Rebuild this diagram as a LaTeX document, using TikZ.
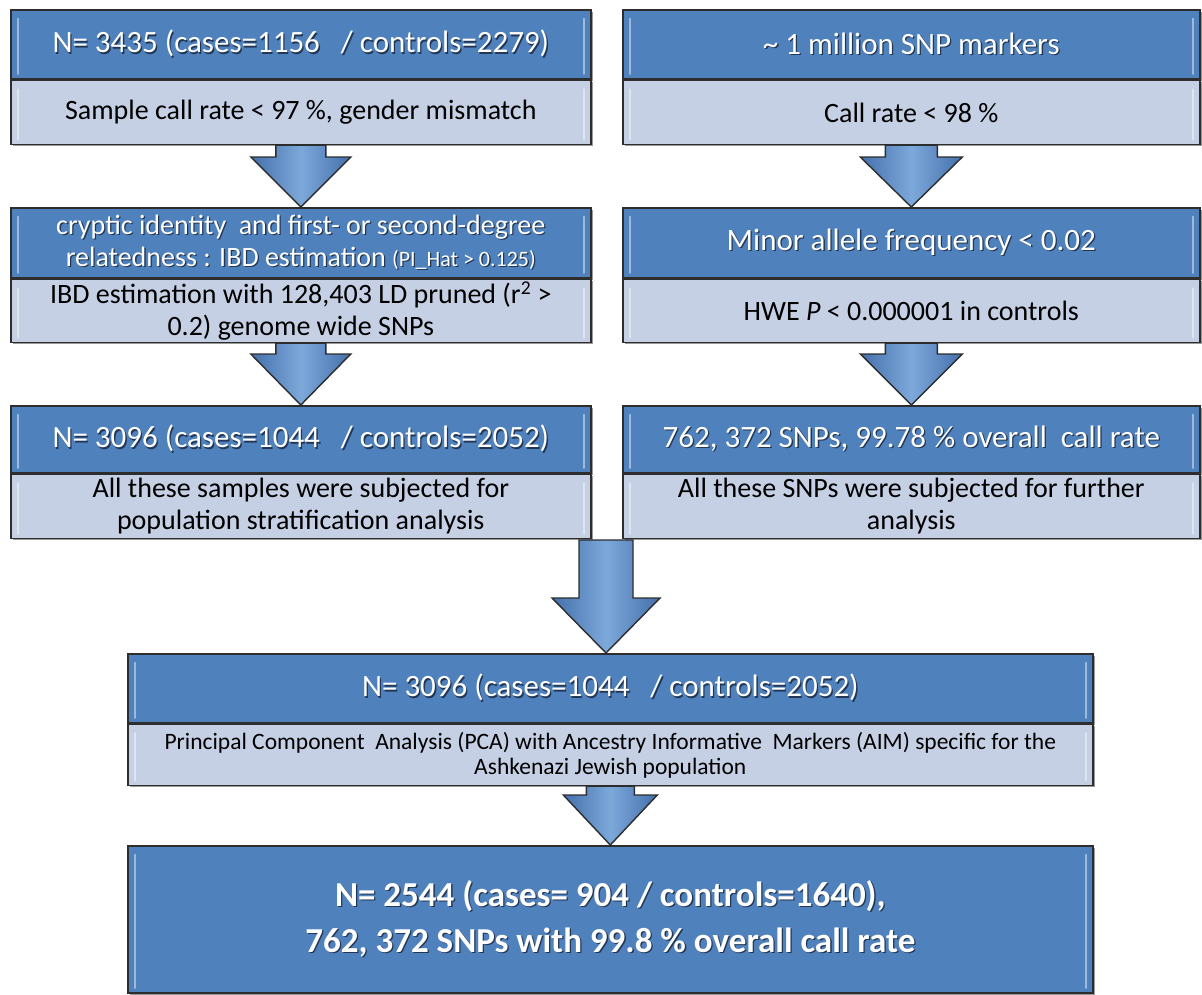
\documentclass[tikz,border=0pt]{standalone}
\usepackage{fontspec}
\setmainfont{Carlito}
\usetikzlibrary{calc,shadows}
\definecolor{hdrblue}{RGB}{79,129,189}
\definecolor{subblue}{RGB}{198,208,229}
\definecolor{edgegray}{RGB}{45,45,45}
\definecolor{arrA}{RGB}{68,112,172}
\definecolor{arrB}{RGB}{125,168,218}
\definecolor{txtshadow}{RGB}{35,55,85}
\newcommand\shtxt[1]{\makebox[0pt][l]{\hspace{1.3pt}\raisebox{-1.3pt}{\textcolor{txtshadow}{#1}}}#1}
\newcommand\blkarrow[5]{%
  \draw[blockarrow] ($#1+(-#3,0)$) -- ($#2+(-#3,-#5)$) -- ($#2+(-#4,-#5)$) -- #2
    -- ($#2+(#4,-#5)$) -- ($#2+(#3,-#5)$) -- ($#1+(#3,0)$) -- cycle;}
\tikzset{
  gloss/.style={path picture={
    \draw[white, opacity=0.45, line width=2.5pt, line cap=round]
      ([xshift=7pt,yshift=-9pt]path picture bounding box.north west) --
      ([xshift=7pt,yshift=5pt]path picture bounding box.south west);
    \draw[white, opacity=0.45, line width=2.5pt, line cap=round]
      ([xshift=-7pt,yshift=-9pt]path picture bounding box.north east) --
      ([xshift=-7pt,yshift=5pt]path picture bounding box.south east);}},
  part/.style={draw=edgegray, line width=1.6pt, anchor=north west, inner sep=0pt,
    align=center, gloss,
    drop shadow={shadow xshift=2pt, shadow yshift=-2pt, opacity=0.4, fill=black}},
  hdr/.style={part, fill=hdrblue, text=white, font=\fontsize{31}{36}\selectfont},
  hdrsmall/.style={hdr, font=\fontsize{28}{32}\selectfont},
  sub/.style={part, fill=subblue, text=black, font=\fontsize{28}{32}\selectfont},
  subsmall/.style={sub, font=\fontsize{23.5}{25}\selectfont},
  final/.style={part, fill=hdrblue, text=white, font=\fontsize{35}{46}\selectfont\bfseries},
  blockarrow/.style={draw=edgegray, line width=1.4pt, line join=miter,
    left color=arrA, right color=arrA, middle color=arrB},
}
\begin{document}
\begin{tikzpicture}[x=1pt,y=-1pt]
\useasboundingbox[fill=white] (0,0) rectangle (1202,994);

% left column
\node[hdr, minimum width=580pt, minimum height=69pt] (L1h) at (10,9)
  {\shtxt{N= 3435 (cases=1156\ \ \ / controls=2279)}};
\node[sub, minimum width=580pt, minimum height=64pt] (L1s) at (L1h.south west)
  {Sample call rate < 97 \%, gender mismatch};
\node[hdrsmall, minimum width=580pt, minimum height=70pt] (L2h) at (10,207)
  {\shtxt{cryptic identity\ \ and first- or second-degree}\\
   \shtxt{relatedness : IBD estimation {\fontsize{22}{24}\selectfont(PI\_Hat > 0.125)}}};
\node[sub, minimum width=580pt, minimum height=63pt] (L2s) at (L2h.south west)
  {IBD estimation with 128,403 LD pruned (r\textsuperscript{2} >\\ 0.2) genome wide SNPs};
\node[hdr, minimum width=580pt, minimum height=67pt] (L3h) at (10,405)
  {\shtxt{N= 3096 (cases=1044\ \ \ / controls=2052)}};
\node[sub, minimum width=580pt, minimum height=64pt] (L3s) at (L3h.south west)
  {All these samples were subjected for\\ population stratification analysis};

% right column
\node[hdr, minimum width=577pt, minimum height=69pt] (R1h) at (622,9)
  {\shtxt{\textasciitilde\ 1 million SNP markers}};
\node[sub, minimum width=577pt, minimum height=64pt] (R1s) at (R1h.south west)
  {Call rate < 98 \%};
\node[hdr, minimum width=577pt, minimum height=70pt] (R2h) at (622,207)
  {\shtxt{Minor allele frequency < 0.02}};
\node[sub, minimum width=577pt, minimum height=63pt] (R2s) at (R2h.south west)
  {HWE \textit{P} < 0.000001 in controls};
\node[hdr, minimum width=577pt, minimum height=67pt] (R3h) at (622,405)
  {\shtxt{762, 372 SNPs, 99.78 \% overall\ \ call rate}};
\node[sub, minimum width=577pt, minimum height=64pt] (R3s) at (R3h.south west)
  {All these SNPs were subjected for further\\ analysis};

% bottom boxes
\node[hdr, minimum width=965pt, minimum height=69pt] (B4h) at (127,653)
  {\shtxt{N= 3096 (cases=1044\ \ \ / controls=2052)}};
\node[subsmall, minimum width=965pt, minimum height=61pt] (B4s) at (B4h.south west)
  {Principal Component\ \ Analysis (PCA) with Ancestry Informative\ \ Markers (AIM) specific for the\\ Ashkenazi Jewish population};
\node[final, minimum width=965pt, minimum height=147pt] (B5) at (127,845)
  {\shtxt{N= 2544 (cases= 904 / controls=1640),}\\ \shtxt{762, 372 SNPs with 99.8 \% overall call rate}};

% arrows
\coordinate (mid) at (606,540);
\coordinate (midtip) at (mid |- B4h.north);
\blkarrow{(L1s.south)}{(L2h.north)}{25}{50}{50}
\blkarrow{(L2s.south)}{(L3h.north)}{25}{50}{51}
\blkarrow{(R1s.south)}{(R2h.north)}{26}{51}{50}
\blkarrow{(R2s.south)}{(R3h.north)}{26}{51}{51}
\blkarrow{(mid)}{(midtip)}{27}{54}{55}
\blkarrow{(B4s.south)}{(B5.north)}{24}{47}{50}
\end{tikzpicture}
\end{document}
